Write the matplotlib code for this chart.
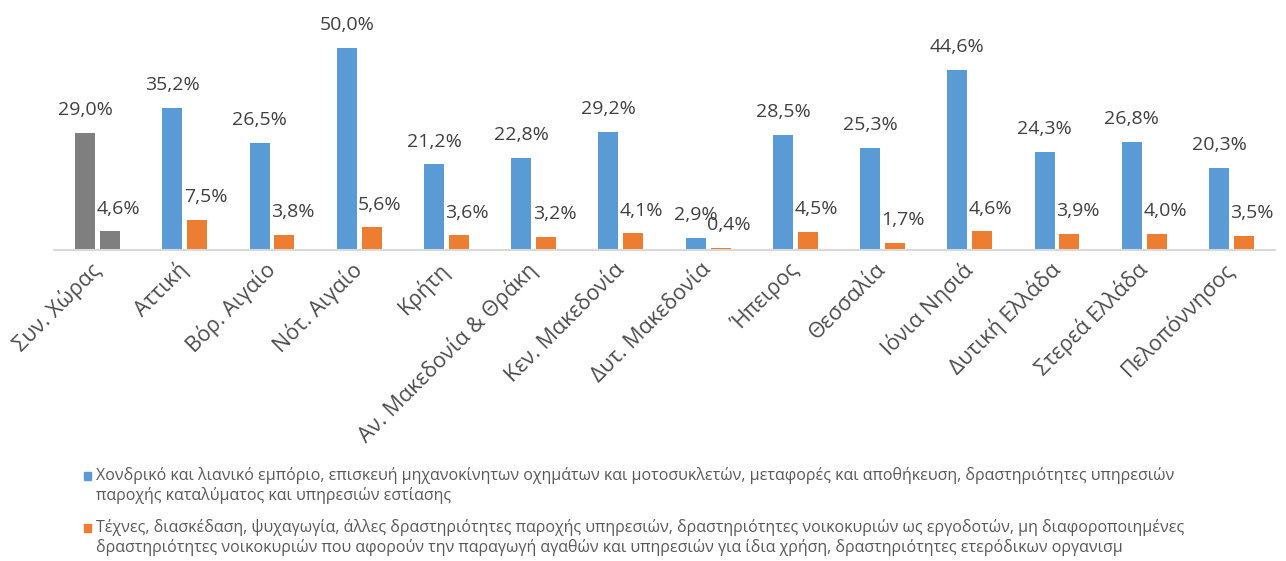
import matplotlib
matplotlib.use("Agg")
import matplotlib.pyplot as plt
import numpy as np

plt.rcParams['font.family'] = ['Open Sans', 'Noto Sans', 'DejaVu Sans']

regions = ["Συν. Χώρας", "Αττική", "Βόρ. Αιγαίο", "Νότ. Αιγαίο", "Κρήτη",
           "Αν. Μακεδονία & Θράκη", "Κεν. Μακεδονία", "Δυτ. Μακεδονία", "Ήπειρος",
           "Θεσσαλία", "Ιόνια Νησιά", "Δυτική Ελλάδα", "Στερεά Ελλάδα", "Πελοπόννησος"]
trade_share = [29.0, 35.2, 26.5, 50.0, 21.2, 22.8, 29.2, 2.9, 28.5, 25.3, 44.6, 24.3, 26.8, 20.3]
arts_share = [4.6, 7.5, 3.8, 5.6, 3.6, 3.2, 4.1, 0.4, 4.5, 1.7, 4.6, 3.9, 4.0, 3.5]

legend_trade = ["Χονδρικό και λιανικό εμπόριο, επισκευή μηχανοκίνητων οχημάτων και μοτοσυκλετών, μεταφορές και αποθήκευση, δραστηριότητες υπηρεσιών",
                "παροχής καταλύματος και υπηρεσιών εστίασης"]
legend_arts = ["Τέχνες, διασκέδαση, ψυχαγωγία, άλλες δραστηριότητες παροχής υπηρεσιών, δραστηριότητες νοικοκυριών ως εργοδοτών, μη διαφοροποιημένες",
               "δραστηριότητες νοικοκυριών που αφορούν την παραγωγή αγαθών και υπηρεσιών για ίδια χρήση, δραστηριότητες ετερόδικων οργανισμ"]

BLUE = "#5B9BD5"
ORANGE = "#ED7D31"
GRAY = "#7F7F7F"
TEXT = "#404040"

W, H = 1286, 561
fig = plt.figure(figsize=(W / 100, H / 100), dpi=100)
# axes placed in pixel coordinates
ax_left, ax_right, ax_base, ax_top = 54, 1275, 250, 28
ax = fig.add_axes([ax_left / W, (H - ax_base) / H, (ax_right - ax_left) / W, (ax_base - ax_top) / H])

x = np.arange(len(regions))
bw = 0.23
gap = 0.055
c1 = [GRAY] + [BLUE] * (len(regions) - 1)
c2 = [GRAY] + [ORANGE] * (len(regions) - 1)
b1 = ax.bar(x - bw / 2 - gap / 2, trade_share, bw, color=c1)
b2 = ax.bar(x + bw / 2 + gap / 2, arts_share, bw, color=c2)

def fmt(v):
    return f"{v:.1f}%".replace(".", ",")

for rect, v in zip(b1, trade_share):
    ax.annotate(fmt(v), (rect.get_x() + rect.get_width() / 2, v), xytext=(0, 10),
                textcoords="offset points", ha="center", va="bottom", fontsize=14, color=TEXT)
for rect, v in zip(b2, arts_share):
    ax.annotate(fmt(v), (rect.get_x() + rect.get_width() / 2, v), xytext=(6, 10),
                textcoords="offset points", ha="center", va="bottom", fontsize=14, color=TEXT)

ax.set_xlim(-0.5, len(regions) - 0.5)
ax.set_ylim(0, 55)
for s in ["top", "left", "right"]:
    ax.spines[s].set_visible(False)
ax.spines["bottom"].set_color("#D9D9D9")
ax.spines["bottom"].set_linewidth(1.5)
ax.set_yticks([])
ax.set_xticks(x)
ax.set_xticklabels(regions, rotation=45, ha="right", va="center", rotation_mode="anchor",
                   fontsize=15.5, color="#4d4d4d")
ax.tick_params(axis="x", length=0, pad=12)

# legend drawn as two wrapped entries
def legend_entry(y_px, color, lines):
    fig.patches.append(plt.Rectangle((84 / W, (H - y_px - 4) / H), 7 / W, 8 / H,
                                     transform=fig.transFigure, color=color))
    for i, line in enumerate(lines):
        fig.text(96 / W, (H - y_px - i * 20) / H, line, fontsize=11.5, color="#595959",
                 ha="left", va="center")

legend_entry(476, BLUE, legend_trade)
legend_entry(528, ORANGE, legend_arts)

fig.savefig("out.png", dpi=100, facecolor="white")
